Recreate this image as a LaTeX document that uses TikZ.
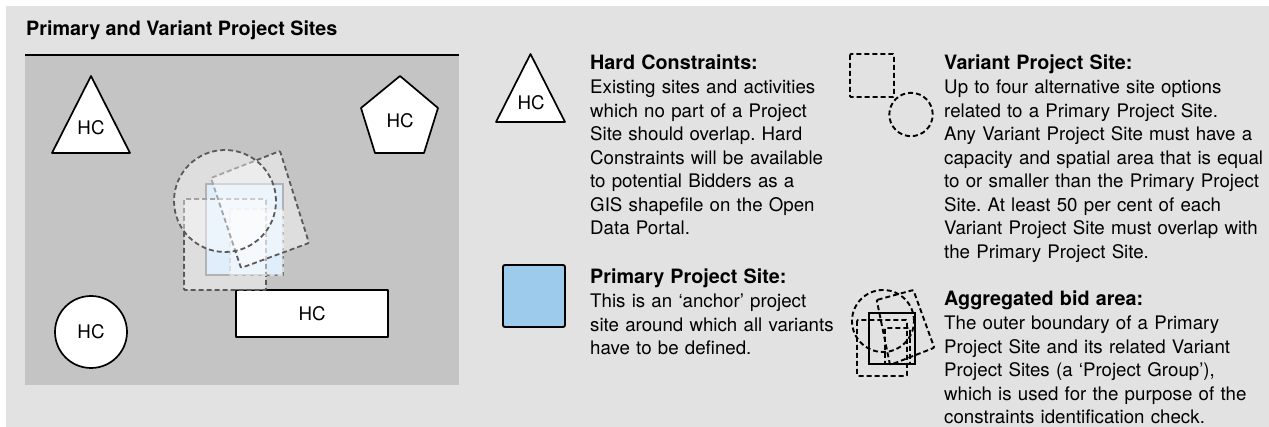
\documentclass[tikz,border=0pt]{standalone}
\usepackage{fontspec}
\setmainfont{TeX Gyre Heros}
\usepackage{xcolor}
\usepackage{tikz}
\usetikzlibrary{positioning}
\definecolor{panelgrey}{HTML}{E2E2E2}
\definecolor{mapgrey}{HTML}{C4C4C4}
\definecolor{siteblue}{HTML}{9DCBEC}
\definecolor{sitepale}{HTML}{C6E1F6}
\newcommand{\keyhead}[1]{{\fontsize{19.75}{23.5}\selectfont\bfseries #1}\\[1pt]}
\frenchspacing

\begin{document}
\begin{tikzpicture}[
      x=1pt, y=-1pt,
      hcshape/.style={draw=black, line width=1.7pt, fill=white, line join=round},
      hclabel/.style={font=\fontsize{18.7}{22}\selectfont, inner sep=0pt},
      variant/.style={draw=black!65, line width=1.8pt, dash pattern=on 5pt off 3pt,
                      fill=white, fill opacity=0.45, rounded corners=1pt},
      keyline/.style={draw=black, line width=1.9pt, dash pattern=on 5pt off 3pt,
                      rounded corners=1pt},
      keytext/.style={anchor=base west, inner sep=0pt, text width=330pt, align=left,
                      font=\fontsize{18.7}{23.5}\selectfont}
    ]
      \useasboundingbox (0,0) rectangle (1269,427);
      \fill[white] (0,0) rectangle (1269,427);
      \fill[panelgrey] (6,6) rectangle (1269,427);

      %% map panel
      \node[anchor=base west, inner sep=0pt, font=\fontsize{19.75}{24}\selectfont\bfseries]
          (title) at (26,36) {Primary and Variant Project Sites};
      \fill[mapgrey] (25,56) rectangle (459,385);
      \draw[line width=1.6pt] (25,55) -- (459,55);

      %% hard constraints on the map
      \draw[hcshape] (91,76) -- (130,153) -- (52,153) -- cycle;
      \node[hclabel] (hctri) at (91,128) {HC};
      \draw[hcshape] (400,76) -- (438,108) -- (424,153) -- (375,153) -- (361,108) -- cycle;
      \node[hclabel] (hcpent) at (400,121) {HC};
      \draw[hcshape] (91,332) circle[radius=36pt];
      \node[hclabel] (hccirc) at (91,332) {HC};
      \draw[hcshape] (236,290) rectangle (388,337);
      \node[hclabel] (hcrect) at (312,313.5) {HC};

      %% primary site with its variants laid over it
      \draw[draw=black!55, line width=1.6pt, fill=sitepale] (206,184) rectangle (283,275);
      \draw[variant] (184,199) rectangle (266,290);
      \draw[variant, draw=white!85!black] (230,209) rectangle (283,275);
      \draw[variant] (211,178) -- (280,151) -- (309,243) -- (241,268) -- cycle;
      \draw[variant] (225,201) circle[radius=51pt];

      %% key: hard constraints
      \draw[hcshape] (530.5,54) -- (565,122) -- (496,122) -- cycle;
      \node[hclabel] (keyhc) at (531,103) {HC};
      \node[keytext] (hardkey) at (590,69.5)
          {\keyhead{Hard Constraints:}
           Existing sites and activities\\
           which no part of a Project\\
           Site should overlap. Hard\\
           Constraints will be available\\
           to potential Bidders as a\\
           GIS shapefile on the Open\\
           Data Portal.};

      %% key: primary site
      \draw[line width=1.9pt, fill=siteblue, rounded corners=2pt] (503,265) rectangle (565,327);
      \node[keytext] (primarykey) at (590,283.5)
          {\keyhead{Primary Project Site:}
           This is an `anchor' project\\
           site around which all variants\\
           have to be defined.};

      %% key: variant site
      \draw[keyline] (850,54) rectangle (894,97);
      \draw[keyline] (911,114.5) circle[radius=21.7pt];
      \node[keytext] (variantkey) at (944,69.5)
          {\keyhead{Variant Project Site:}
           Up to four alternative site options\\
           related to a Primary Project Site.\\
           Any Variant Project Site must have a\\
           capacity and spatial area that is equal\\
           to or smaller than the Primary Project\\
           Site. At least 50 per cent of each\\
           Variant Project Site must overlap with\\
           the Primary Project Site.};

      %% key: aggregated bid area
      \draw[keyline] (883,321) circle[radius=31pt];
      \draw[keyline] (876.7,300) -- (913.3,290) -- (934.3,347.7) -- (890,365) -- cycle;
      \draw[keyline] (857,320) rectangle (907,376);
      \draw[keyline] (885,328) rectangle (910,364);
      \draw[line width=1.9pt] (869,313) rectangle (915,364);
      \node[keytext] (aggkey) at (944,305.5)
          {\keyhead{Aggregated bid area:}
           The outer boundary of a Primary\\
           Project Site and its related Variant\\
           Project Sites (a `Project Group'),\\
           which is used for the purpose of the\\
           constraints identification check.};
    \end{tikzpicture}
\end{document}
